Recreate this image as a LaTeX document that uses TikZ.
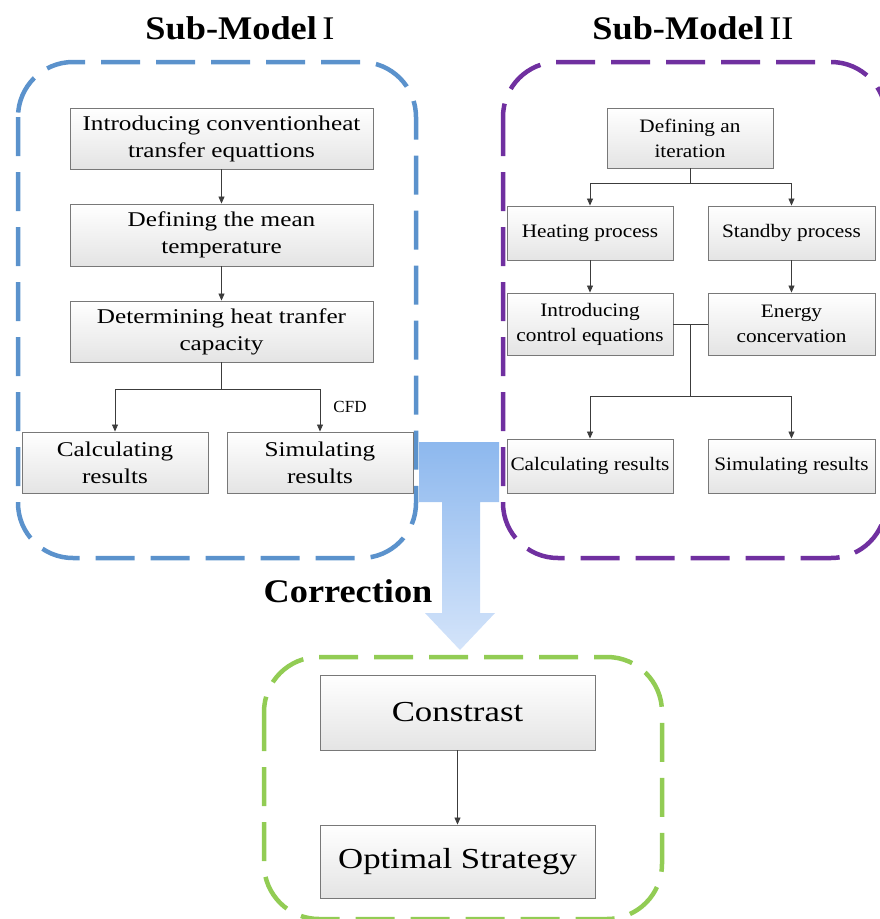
\documentclass[tikz,border=0pt]{standalone}
\usepackage{fontspec}
\setmainfont{Liberation Serif}
\newfontfamily\wideA[FakeStretch=1.2]{Liberation Serif}
\newfontfamily\wideB[FakeStretch=1.12]{Liberation Serif}
\newfontfamily\wideT[FakeStretch=1.1]{Liberation Serif}
\usetikzlibrary{arrows.meta,calc}
\definecolor{bluebox}{RGB}{91,146,204}
\definecolor{purplebox}{RGB}{112,48,160}
\definecolor{greenbox}{RGB}{146,204,84}
\definecolor{boxline}{RGB}{120,120,120}
\definecolor{boxbot}{RGB}{228,228,228}
\definecolor{arrtop}{RGB}{141,184,238}
\definecolor{arrbot}{RGB}{212,228,250}
\definecolor{linkc}{RGB}{60,60,60}
\tikzset{
  pbox/.style={draw=boxline, top color=white, bottom color=boxbot, line width=0.9pt,
    align=center, inner sep=0pt},
  fa/.style={font=\wideA\fontsize{21}{27}\selectfont},
  fb/.style={font=\wideB\fontsize{19}{25}\selectfont},
  fc/.style={font=\wideA\fontsize{29}{32}\selectfont},
  link/.style={draw=linkc, line width=0.8pt},
  arr/.style={link, -{Triangle[length=7pt,width=6pt]}},
  group/.style={line width=4.5pt, dash pattern=on 39pt off 16pt, rounded corners=55pt},
  ttl/.style={font=\wideT\fontsize{33}{36}\selectfont\bfseries},
}
\begin{document}
\begin{tikzpicture}[x=1pt,y=-1pt]
\useasboundingbox (0,0) rectangle (880,919);
% big correction arrow
\shade[top color=arrtop, bottom color=arrbot]
  (419,442) -- (499,442) -- (499,502) -- (480,502) -- (480,613) -- (495,613)
  -- (460,650) -- (425,613) -- (442,613) -- (442,502) -- (419,502) -- cycle;
% group frames
\draw[group, draw=bluebox] (18,62) rectangle (416,558);
\draw[group, draw=purplebox] (503,62) rectangle (886,558);
\draw[group, draw=greenbox] (264,657) rectangle (662,919);
% titles
\node[ttl] (t1) at (240,28) {Sub-Model\,\mdseries I};
\node[ttl] (t2) at (693,28) {Sub-Model\,\mdseries II};
\node[ttl] (corr) at (348,591) {Correction};
% Sub-model I
\node[pbox, fa, minimum width=303pt, minimum height=61pt] (a1) at (221.5,138.5)
  {Introducing conventionheat\\transfer equattions};
\node[pbox, fa, minimum width=303pt, minimum height=62pt] (a2) at (221.5,235)
  {Defining the mean\\temperature};
\node[pbox, fa, minimum width=303pt, minimum height=61pt] (a3) at (221.5,331.5)
  {Determining heat tranfer\\capacity};
\node[pbox, fa, minimum width=186pt, minimum height=61pt] (a4) at (115,462.5)
  {Calculating\\results};
\node[pbox, fa, minimum width=186pt, minimum height=61pt] (a5) at (320,462.5)
  {Simulating\\results};
\node[font=\fontsize{17}{19}\selectfont] (cfd) at (350,407) {CFD};
\draw[arr] (a1) -- (a2);
\draw[arr] (a2) -- (a3);
\draw[arr] (a3.south) -- ++(0,27) -| (a4.north);
\draw[arr] (a3.south) -- ++(0,27) -| (a5.north);
% Sub-model II
\node[pbox, fb, minimum width=166pt, minimum height=60pt] (b1) at (690,138)
  {Defining an\\iteration};
\node[pbox, fb, minimum width=166pt, minimum height=54pt] (b2) at (590,233)
  {Heating process};
\node[pbox, fb, minimum width=167pt, minimum height=54pt] (b3) at (791.5,233)
  {Standby process};
\node[pbox, fb, minimum width=166pt, minimum height=62pt] (b4) at (590,324)
  {Introducing\\control equations};
\node[pbox, fb, minimum width=167pt, minimum height=62pt] (b5) at (791.5,324)
  {Energy\\concervation};
\node[pbox, fb, minimum width=166pt, minimum height=54pt] (b6) at (590,466)
  {Calculating results};
\node[pbox, fb, minimum width=167pt, minimum height=54pt] (b7) at (791.5,466)
  {Simulating results};
\draw[arr] (b1.south) -- ++(0,15) -| (b2.north);
\draw[arr] (b1.south) -- ++(0,15) -| (b3.north);
\draw[arr] (b2) -- (b4);
\draw[arr] (b3) -- (b5);
\draw[link] (b4.east) -- (b5.west);
\coordinate (mid) at ($(b4.east)!0.5!(b5.west)$);
\draw[arr] (mid) -- ++(0,72) -| (b6.north);
\draw[arr] (mid) -- ++(0,72) -| (b7.north);
% result
\node[pbox, fc, minimum width=275pt, minimum height=75pt] (c1) at (457.5,712.5)
  {Constrast};
\node[pbox, fc, minimum width=275pt, minimum height=73pt] (c2) at (457.5,861.5)
  {Optimal Strategy};
\draw[arr] (c1) -- (c2);
\end{tikzpicture}
\end{document}
